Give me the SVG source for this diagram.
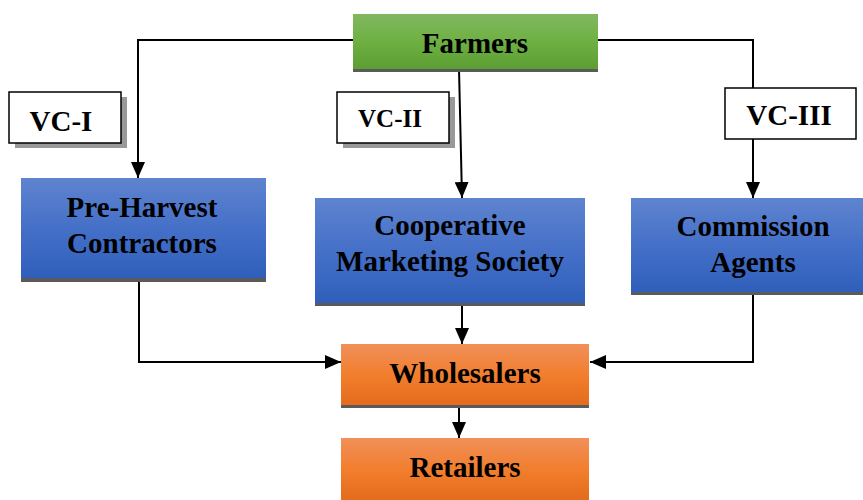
<svg xmlns="http://www.w3.org/2000/svg" width="863" height="500" viewBox="0 0 863 500">
<defs>
<linearGradient id="gGreen" x1="0" y1="0" x2="0" y2="1"><stop offset="0" stop-color="#80b860"/><stop offset="0.5" stop-color="#6fb043"/><stop offset="1" stop-color="#5c9e33"/></linearGradient>
<linearGradient id="gBlue" x1="0" y1="0" x2="0" y2="1"><stop offset="0" stop-color="#5f84cf"/><stop offset="0.5" stop-color="#4570c8"/><stop offset="1" stop-color="#2f5fbb"/></linearGradient>
<linearGradient id="gOrange" x1="0" y1="0" x2="0" y2="1"><stop offset="0" stop-color="#f0905a"/><stop offset="0.5" stop-color="#f27e2e"/><stop offset="1" stop-color="#e46c1c"/></linearGradient>
<marker id="arr" viewBox="0 0 16 14" refX="16" refY="7" markerWidth="16" markerHeight="14" markerUnits="userSpaceOnUse" orient="auto"><path d="M0,0 L16,7 L0,14 Z" fill="#000"/></marker>
</defs>
<style>
.t{font-family:"Liberation Serif","Times New Roman",serif;font-weight:bold;font-size:29px;fill:#000;text-anchor:middle}
.c{fill:none;stroke:#000;stroke-width:2}
.sh{fill:#5a5a5a}
.lb{fill:#fff;stroke:#000;stroke-width:1.5}
.ls{fill:#999}
</style>
<g id="connectors">
<polyline class="c" points="353,40 138,40 138,178" marker-end="url(#arr)"/>
<polyline class="c" points="598,40 753,40 753,88"/>
<line class="c" x1="753" y1="139" x2="753" y2="198" marker-end="url(#arr)"/>
<line class="c" x1="459" y1="69" x2="462" y2="198" marker-end="url(#arr)"/>
<polyline class="c" points="139,282 139,362 341,362" marker-end="url(#arr)"/>
<polyline class="c" points="753,295 753,362 590,362" marker-end="url(#arr)"/>
<line class="c" x1="462" y1="306" x2="462" y2="344" marker-end="url(#arr)"/>
<line class="c" x1="459" y1="408" x2="459" y2="438" marker-end="url(#arr)"/>
</g>
<g id="farmers">
<rect class="sh" x="353" y="66" width="245" height="6"/>
<rect x="353" y="14" width="245" height="55" fill="url(#gGreen)"/>
<text class="t" x="475" y="53">Farmers</text>
</g>
<g id="vc1">
<rect class="ls" x="15" y="97" width="112" height="51"/>
<rect class="lb" x="9" y="92" width="112" height="51"/>
<text class="t" x="61" y="131">VC-I</text>
</g>
<g id="vc2">
<rect class="ls" x="343" y="97" width="112" height="51"/>
<rect class="lb" x="337" y="92" width="112" height="51"/>
<text class="t" x="390" y="127" style="font-size:25px">VC-II</text>
</g>
<g id="vc3">
<rect class="lb" x="725" y="88" width="131" height="51"/>
<text class="t" x="789" y="125">VC-III</text>
</g>
<g id="preharvest">
<rect class="sh" x="21" y="275" width="245" height="7"/>
<rect x="21" y="178" width="245" height="100" fill="url(#gBlue)"/>
<text class="t" x="142" y="217">Pre-Harvest</text>
<text class="t" x="142" y="253">Contractors</text>
</g>
<g id="cooperative">
<rect class="sh" x="315" y="300" width="270" height="6"/>
<rect x="315" y="198" width="270" height="105" fill="url(#gBlue)"/>
<text class="t" x="450" y="235">Cooperative</text>
<text class="t" x="450" y="271">Marketing Society</text>
</g>
<g id="commission">
<rect class="sh" x="631" y="289" width="232" height="6"/>
<rect x="631" y="198" width="232" height="94" fill="url(#gBlue)"/>
<text class="t" x="753" y="236">Commission</text>
<text class="t" x="753" y="272">Agents</text>
</g>
<g id="wholesalers">
<rect class="sh" x="341" y="402" width="248" height="6"/>
<rect x="341" y="344" width="248" height="61" fill="url(#gOrange)"/>
<text class="t" x="465" y="383">Wholesalers</text>
</g>
<g id="retailers">
<rect x="341" y="438" width="248" height="62" fill="url(#gOrange)"/>
<text class="t" x="465" y="477">Retailers</text>
</g>
</svg>
